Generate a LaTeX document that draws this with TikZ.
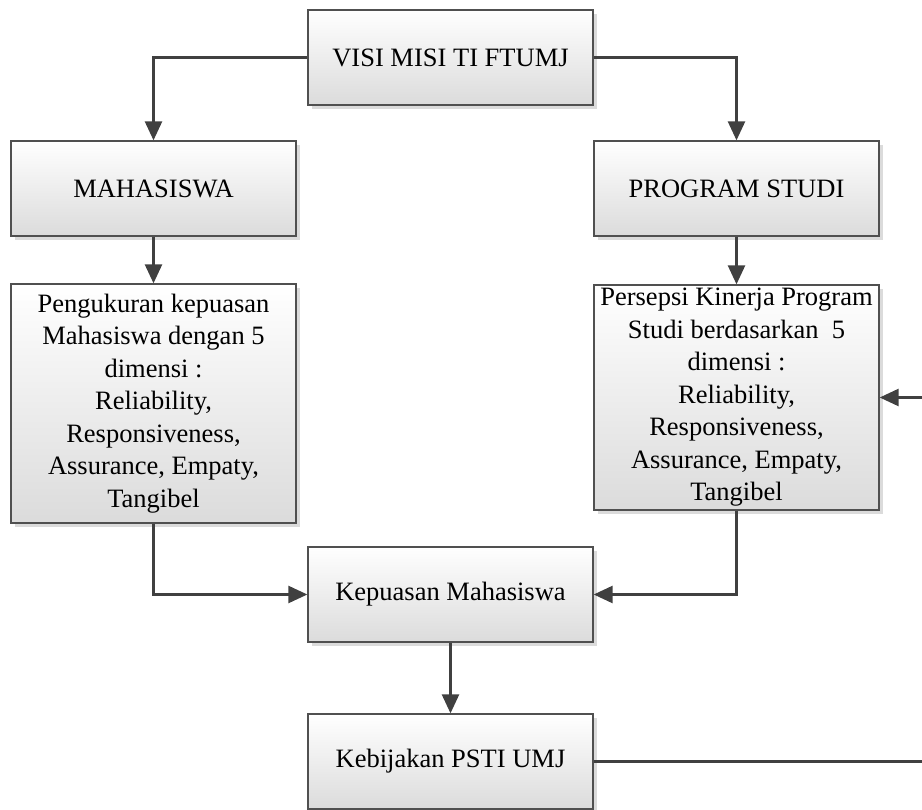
\documentclass[tikz,border=0pt]{standalone}
\usepackage{fontspec}
\setmainfont{Liberation Serif}
\usetikzlibrary{arrows.meta,shadows}
\definecolor{linec}{HTML}{404040}
\definecolor{boxline}{HTML}{505050}
\tikzset{
  box/.style={draw=boxline, line width=1.3pt, top color=white, bottom color=black!14,
    minimum width=285pt, minimum height=95pt, align=center, inner sep=2pt,
    font=\fontsize{26.5}{32.5}\selectfont,
    drop shadow={shadow xshift=4pt, shadow yshift=-4pt, fill=black!14, opacity=1}},
  conn/.style={draw=linec, line width=2.5pt, -{Triangle[length=19pt,width=17pt]}},
}
\begin{document}
\begin{tikzpicture}[x=1pt,y=1pt]
\useasboundingbox (0,0) rectangle (922,-810);
\node[box] (visi) at (450.5,-57.5) {VISI MISI TI FTUMJ};
\node[box] (maha) at (153.5,-188.5) {MAHASISWA};
\node[box] (prog) at (736.5,-188.5) {PROGRAM STUDI};
\node[box, minimum height=239pt] (peng) at (153.5,-403.5) {Pengukuran kepuasan\\Mahasiswa dengan 5\\dimensi :\\Reliability,\\Responsiveness,\\Assurance, Empaty,\\Tangibel};
\node[box, minimum height=225pt] (pers) at (736.5,-397.5) {Persepsi Kinerja Program\\Studi berdasarkan~~5\\dimensi :\\Reliability,\\Responsiveness,\\Assurance, Empaty,\\Tangibel};
\node[box] (kep) at (450.5,-594.5) {Kepuasan Mahasiswa};
\node[box] (keb) at (450.5,-761.5) {Kebijakan PSTI UMJ};
\coordinate (r1) at (935,-761.5);
\coordinate (r2) at (935,-397.5);
\draw[conn] (visi.west) -| (maha.north);
\draw[conn] (visi.east) -| (prog.north);
\draw[conn] (maha.south) -- (peng.north);
\draw[conn] (prog.south) -- (pers.north);
\draw[conn] (peng.south) |- (kep.west);
\draw[conn] (pers.south) |- (kep.east);
\draw[conn] (kep.south) -- (keb.north);
\draw[conn] (keb.east) -- (r1) -- (r2) -- (pers.east);
\end{tikzpicture}
\end{document}
